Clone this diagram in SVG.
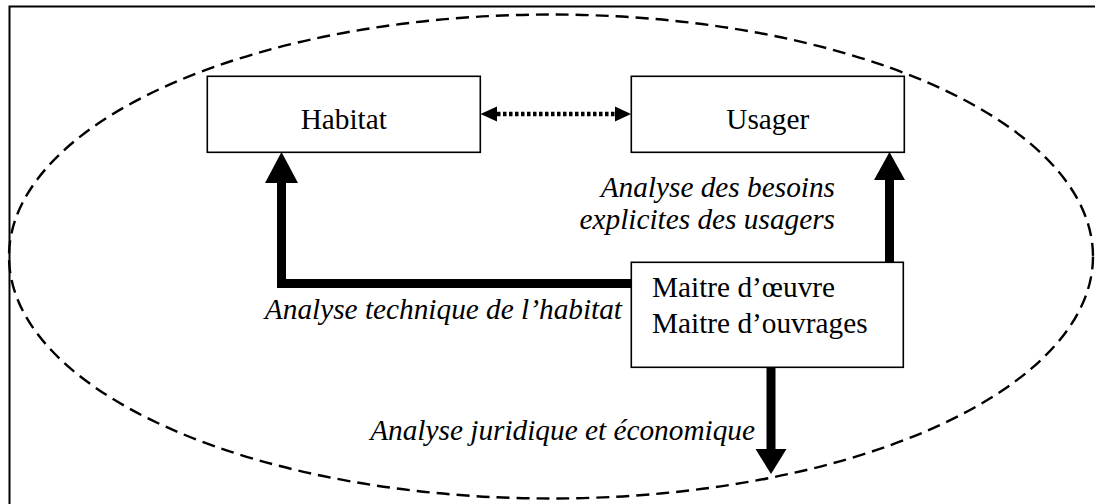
<svg xmlns="http://www.w3.org/2000/svg" width="1095" height="504" viewBox="0 0 1095 504">
<style>
.box{fill:#fff;stroke:#000;stroke-width:1.6}
.t{font-family:"Liberation Serif","Times New Roman",serif;font-size:29.3px;fill:#000}
.i{font-style:italic}
.thick{fill:none;stroke:#000;stroke-width:9;stroke-linejoin:miter}
.head{fill:#000}
</style>
<rect x="9.5" y="6.5" width="1120" height="530" fill="#fff" stroke="#000" stroke-width="2"/>
<ellipse cx="551" cy="256.5" rx="542" ry="242" fill="none" stroke="#000" stroke-width="2.4" stroke-dasharray="13 7"/>
<g id="connectors">
<line x1="497" y1="114" x2="615" y2="114" stroke="#000" stroke-width="4.5" stroke-dasharray="3.5 2.5"/>
<polygon class="head" points="480.5,114 497,106.5 497,121.5"/>
<polygon class="head" points="631,114 615,106.5 615,121.5"/>
<polyline class="thick" points="631,283.5 281.5,283.5 281.5,182"/>
<polygon class="head" points="281.5,152 265,183 298,183"/>
<line class="thick" x1="889.5" y1="262" x2="889.5" y2="179"/>
<polygon class="head" points="889.5,152 874,180 905,180"/>
<line class="thick" x1="771" y1="367" x2="771" y2="450" stroke-width="8.5"/>
<polygon class="head" points="771,474 755.5,449 786.5,449"/>
</g>
<g id="habitat">
<rect class="box" x="207.3" y="76.3" width="273" height="76"/>
<text class="t" x="343.8" y="129.3" text-anchor="middle">Habitat</text>
</g>
<g id="usager">
<rect class="box" x="631.3" y="76.3" width="273" height="76"/>
<text class="t" x="767.8" y="129.3" text-anchor="middle">Usager</text>
</g>
<g id="maitre">
<rect class="box" x="631.3" y="262.3" width="272" height="105"/>
<text class="t" x="652" y="297">Maitre d’œuvre</text>
<text class="t" x="652" y="333">Maitre d’ouvrages</text>
</g>
<g id="labels">
<text class="t i" x="835" y="197" text-anchor="end">Analyse des besoins</text>
<text class="t i" x="835" y="229" text-anchor="end">explicites des usagers</text>
<text class="t i" x="622" y="319" text-anchor="end">Analyse technique de l’habitat</text>
<text class="t i" x="755" y="440" text-anchor="end">Analyse juridique et économique</text>
</g>
</svg>
